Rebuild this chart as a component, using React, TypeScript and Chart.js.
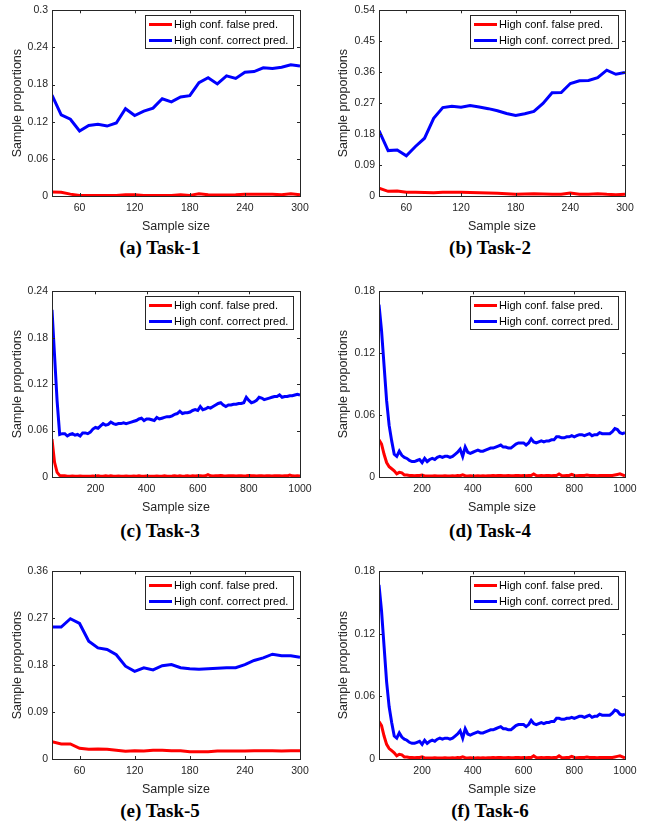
import React, { useEffect, useRef } from "react";
import { Chart, registerables } from "chart.js";
Chart.register(...registerables);

// ---------------- data ----------------
const shortSizes = [30, 40, 50, 60, 70, 80, 90, 100, 110, 120, 130, 140, 150, 160, 170, 180, 190, 200, 210, 220, 230, 240, 250, 260, 270, 280, 290, 300];

const longSizes = [
  30, 40, 50, 60, 70, 80, 90, 100, 110, 120,
  130, 140, 150, 160, 170, 180, 190, 200, 210, 220,
  230, 240, 250, 260, 270, 280, 290, 300, 310, 320,
  330, 340, 350, 360, 370, 380, 390, 400, 410, 420,
  430, 440, 450, 460, 470, 480, 490, 500, 510, 520,
  530, 540, 550, 560, 570, 580, 590, 600, 610, 620,
  630, 640, 650, 660, 670, 680, 690, 700, 710, 720,
  730, 740, 750, 760, 770, 780, 790, 800, 810, 820,
  830, 840, 850, 860, 870, 880, 890, 900, 910, 920,
  930, 940, 950, 960, 970, 980, 990, 1000,
];

const seriesLabels = ["High conf. false pred.", "High conf. correct pred."];

const task1False = [0.0065, 0.006, 0.003, 0.0008, 0.001, 0.001, 0.0008, 0.0008, 0.002, 0.002, 0.001, 0.0008, 0.001, 0.001, 0.002, 0.001, 0.0037, 0.002, 0.0015, 0.0015, 0.002, 0.003, 0.003, 0.003, 0.0027, 0.002, 0.0037, 0.002];
const task1Correct = [0.163, 0.131, 0.124, 0.105, 0.114, 0.116, 0.113, 0.118, 0.141, 0.130, 0.137, 0.142, 0.157, 0.152, 0.160, 0.162, 0.183, 0.191, 0.181, 0.194, 0.190, 0.200, 0.201, 0.207, 0.206, 0.208, 0.212, 0.210];

const task2False = [0.023, 0.0135, 0.0145, 0.0106, 0.0106, 0.010, 0.0096, 0.0106, 0.0106, 0.0106, 0.010, 0.0096, 0.0087, 0.0077, 0.0067, 0.0048, 0.0058, 0.0067, 0.0058, 0.0048, 0.0048, 0.0087, 0.0048, 0.0048, 0.0067, 0.0048, 0.0039, 0.0048];
const task2Correct = [0.190, 0.132, 0.134, 0.117, 0.144, 0.168, 0.226, 0.257, 0.261, 0.258, 0.263, 0.259, 0.254, 0.248, 0.240, 0.234, 0.239, 0.246, 0.269, 0.300, 0.301, 0.327, 0.335, 0.336, 0.344, 0.366, 0.354, 0.359];

const task3False = [
  0.049, 0.019, 0.006, 0.002, 0.0015, 0.0015, 0.001, 0.001, 0.0012, 0.001,
  0.001, 0.0012, 0.001, 0.001, 0.001, 0.001, 0.0012, 0.001, 0.0015, 0.001,
  0.001, 0.0015, 0.001, 0.0015, 0.001, 0.001, 0.0012, 0.001, 0.001, 0.0012,
  0.001, 0.001, 0.0012, 0.001, 0.0015, 0.001, 0.001, 0.0012, 0.001, 0.001,
  0.001, 0.0012, 0.001, 0.001, 0.0015, 0.001, 0.001, 0.0012, 0.0015, 0.001,
  0.0015, 0.001, 0.0012, 0.0015, 0.001, 0.0015, 0.0012, 0.0015, 0.0015, 0.0012,
  0.0015, 0.003, 0.0015, 0.0012, 0.0015, 0.0015, 0.002, 0.0015, 0.0012, 0.0015,
  0.0015, 0.0015, 0.0012, 0.0015, 0.0015, 0.0012, 0.0015, 0.002, 0.0015, 0.0015,
  0.0012, 0.0015, 0.0015, 0.0012, 0.0015, 0.0015, 0.0012, 0.0015, 0.0015, 0.0015,
  0.0012, 0.0015, 0.0015, 0.0025, 0.0015, 0.0012, 0.0015, 0.0012,
];
const task3Correct = [
  0.216, 0.157, 0.098, 0.055, 0.056, 0.056, 0.053, 0.055, 0.056, 0.054,
  0.055, 0.053, 0.057, 0.057, 0.056, 0.058, 0.062, 0.064, 0.063, 0.066,
  0.069, 0.067, 0.068, 0.071, 0.069, 0.068, 0.069, 0.069, 0.070, 0.069,
  0.070, 0.071, 0.072, 0.073, 0.075, 0.076, 0.073, 0.075, 0.075, 0.074,
  0.073, 0.077, 0.075, 0.076, 0.077, 0.078, 0.078, 0.079, 0.081, 0.082,
  0.085, 0.082, 0.083, 0.083, 0.084, 0.086, 0.087, 0.086, 0.091, 0.087,
  0.088, 0.090, 0.089, 0.091, 0.093, 0.095, 0.096, 0.093, 0.091, 0.093,
  0.093, 0.094, 0.094, 0.095, 0.095, 0.096, 0.103, 0.099, 0.096, 0.097,
  0.099, 0.103, 0.102, 0.100, 0.101, 0.102, 0.103, 0.104, 0.104, 0.106,
  0.103, 0.104, 0.104, 0.105, 0.105, 0.106, 0.107, 0.106,
];

const task4False = [
  0.036, 0.032, 0.022, 0.014, 0.010, 0.008, 0.006, 0.003, 0.0045, 0.004,
  0.002, 0.002, 0.0015, 0.0015, 0.0012, 0.0015, 0.0015, 0.002, 0.001, 0.001,
  0.001, 0.001, 0.0012, 0.001, 0.001, 0.001, 0.0012, 0.001, 0.001, 0.0012,
  0.001, 0.0015, 0.0012, 0.002, 0.0012, 0.001, 0.0012, 0.001, 0.001, 0.0012,
  0.001, 0.0012, 0.001, 0.0012, 0.0012, 0.0015, 0.0012, 0.0015, 0.0015, 0.0012,
  0.0012, 0.0015, 0.0012, 0.0012, 0.0015, 0.0015, 0.0012, 0.0015, 0.0012, 0.0015,
  0.0015, 0.003, 0.0015, 0.0012, 0.0015, 0.0012, 0.0015, 0.0015, 0.0012, 0.0015,
  0.0015, 0.003, 0.0015, 0.0012, 0.0015, 0.0015, 0.0025, 0.0015, 0.0012, 0.0015,
  0.0015, 0.0015, 0.002, 0.0015, 0.0015, 0.0015, 0.0012, 0.0015, 0.0015, 0.0015,
  0.0015, 0.0015, 0.0015, 0.002, 0.0025, 0.003, 0.002, 0.001,
];
const task4Correct = [
  0.167, 0.142, 0.108, 0.074, 0.050, 0.035, 0.022, 0.020, 0.025, 0.021,
  0.019, 0.018, 0.016, 0.015, 0.015, 0.016, 0.017, 0.014, 0.018, 0.015,
  0.017, 0.018, 0.017, 0.019, 0.020, 0.019, 0.020, 0.020, 0.019, 0.020,
  0.022, 0.024, 0.027, 0.020, 0.029, 0.024, 0.023, 0.024, 0.025, 0.026,
  0.025, 0.025, 0.026, 0.027, 0.028, 0.028, 0.029, 0.030, 0.031, 0.029,
  0.029, 0.028, 0.028, 0.030, 0.032, 0.033, 0.033, 0.033, 0.031, 0.033,
  0.037, 0.034, 0.033, 0.034, 0.035, 0.034, 0.035, 0.035, 0.036, 0.036,
  0.039, 0.039, 0.038, 0.038, 0.039, 0.039, 0.040, 0.039, 0.040, 0.041,
  0.041, 0.040, 0.041, 0.042, 0.040, 0.041, 0.041, 0.043, 0.042, 0.042,
  0.042, 0.042, 0.044, 0.047, 0.046, 0.043, 0.042, 0.043,
];

const task5False = [0.033, 0.029, 0.029, 0.0205, 0.0185, 0.019, 0.0185, 0.0166, 0.0147, 0.016, 0.0153, 0.0166, 0.0166, 0.016, 0.016, 0.014, 0.014, 0.014, 0.0153, 0.0153, 0.0153, 0.0153, 0.016, 0.016, 0.016, 0.0153, 0.016, 0.016];
const task5Correct = [0.253, 0.253, 0.269, 0.260, 0.226, 0.213, 0.210, 0.200, 0.178, 0.168, 0.175, 0.171, 0.179, 0.181, 0.175, 0.173, 0.172, 0.173, 0.174, 0.175, 0.175, 0.181, 0.189, 0.194, 0.201, 0.198, 0.198, 0.195];

// Task-6 is drawn identically to Task-4 in the reference
const task6False = task4False;
const task6Correct = task4Correct;

const shortXTicks = [60, 120, 180, 240, 300];
const longXTicks = [200, 400, 600, 800, 1000];

const yTicks006_030 = [0, 0.06, 0.12, 0.18, 0.24, 0.3];
const yLabels006_030 = ["0", "0.06", "0.12", "0.18", "0.24", "0.3"];
const yTicks009_054 = [0, 0.09, 0.18, 0.27, 0.36, 0.45, 0.54];
const yLabels009_054 = ["0", "0.09", "0.18", "0.27", "0.36", "0.45", "0.54"];
const yTicks006_024 = [0, 0.06, 0.12, 0.18, 0.24];
const yLabels006_024 = ["0", "0.06", "0.12", "0.18", "0.24"];
const yTicks006_018 = [0, 0.06, 0.12, 0.18];
const yLabels006_018 = ["0", "0.06", "0.12", "0.18"];
const yTicks009_036 = [0, 0.09, 0.18, 0.27, 0.36];
const yLabels009_036 = ["0", "0.09", "0.18", "0.27", "0.36"];

const captions = ["(a) Task-1", "(b) Task-2", "(c) Task-3", "(d) Task-4", "(e) Task-5", "(f) Task-6"];

// ---------------- drawing ----------------
const AX = "#262626";
const SANS = '"Liberation Sans", Arial, sans-serif';

const boxPlugin = {
  id: "matlabBox",
  afterDatasetsDraw(chart: any) {
    const { ctx, chartArea, scales } = chart;
    const { left, right, top, bottom } = chartArea;
    const x = scales.x;
    const y = scales.y;
    ctx.save();
    ctx.strokeStyle = AX;
    ctx.lineWidth = 1;
    ctx.beginPath();
    const tl = 3;
    x.ticks.forEach((t: any) => {
      const px = Math.round(x.getPixelForValue(t.value)) + 0.5;
      ctx.moveTo(px, bottom);
      ctx.lineTo(px, bottom - tl);
      ctx.moveTo(px, top);
      ctx.lineTo(px, top + tl);
    });
    y.ticks.forEach((t: any) => {
      const py = Math.round(y.getPixelForValue(t.value)) + 0.5;
      ctx.moveTo(left, py);
      ctx.lineTo(left + tl, py);
      ctx.moveTo(right, py);
      ctx.lineTo(right - tl, py);
    });
    ctx.stroke();
    ctx.strokeRect(Math.round(left) + 0.5, Math.round(top) + 0.5, Math.round(right - left), Math.round(bottom - top));

    // legend box inside the axes, top right
    ctx.font = `11px ${SANS}`;
    const ds = chart.data.datasets;
    const textW = Math.max(...ds.map((d: any) => ctx.measureText(d.label).width));
    const lineLen = 23;
    const boxW = Math.round(3.5 + lineLen + 2 + textW + 5);
    const boxH = 33;
    const bx = Math.round(right - 7 - boxW) + 0.5;
    const by = Math.round(top + 5) + 0.5;
    ctx.fillStyle = "#ffffff";
    ctx.fillRect(bx, by, boxW, boxH);
    ctx.strokeStyle = AX;
    ctx.lineWidth = 1;
    ctx.strokeRect(bx, by, boxW, boxH);
    ds.forEach((d: any, i: number) => {
      const cy = by + 9 + i * 16;
      ctx.beginPath();
      ctx.strokeStyle = d.borderColor;
      ctx.lineWidth = 3;
      ctx.moveTo(bx + 3.5, cy);
      ctx.lineTo(bx + 3.5 + lineLen, cy);
      ctx.stroke();
      ctx.fillStyle = "#000000";
      ctx.textBaseline = "middle";
      ctx.textAlign = "left";
      ctx.fillText(d.label, bx + 3.5 + lineLen + 2, cy + 0.5);
    });
    ctx.restore();
  },
};

type PanelCfg = {
  sizes: number[];
  falseVals: number[];
  correctVals: number[];
  xMax: number;
  xTicks: number[];
  yMax: number;
  yTicks: number[];
  yLabels: string[];
  left: number;
  top: number;
  width: number;
  height: number;
  yAxisW: number;
  yTitlePad: number;
};

function Panel({ cfg }: { cfg: PanelCfg }) {
  const ref = useRef<HTMLCanvasElement>(null);
  useEffect(() => {
    const tickFont = { family: SANS, size: 10.5 };
    const titleFont = { family: SANS, size: 12.5 };
    const chart = new Chart(ref.current as HTMLCanvasElement, {
      type: "line",
      data: {
        datasets: [
          {
            label: seriesLabels[0],
            data: cfg.sizes.map((s, i) => ({ x: s, y: cfg.falseVals[i] })),
            borderColor: "#ff0000",
            backgroundColor: "#ff0000",
            borderWidth: 3,
            pointRadius: 0,
            tension: 0,
            fill: false,
          },
          {
            label: seriesLabels[1],
            data: cfg.sizes.map((s, i) => ({ x: s, y: cfg.correctVals[i] })),
            borderColor: "#0000ff",
            backgroundColor: "#0000ff",
            borderWidth: 3,
            pointRadius: 0,
            tension: 0,
            fill: false,
          },
        ],
      },
      options: {
        responsive: false,
        maintainAspectRatio: false,
        animation: false,
        layout: { padding: { top: 10, right: 20, left: 0, bottom: 0 } },
        plugins: { legend: { display: false }, tooltip: { enabled: false } },
        scales: {
          x: {
            type: "linear",
            min: 30,
            max: cfg.xMax,
            grid: { display: false, drawTicks: false },
            border: { display: false },
            afterBuildTicks: (s: any) => {
              s.ticks = cfg.xTicks.map((v) => ({ value: v }));
            },
            afterFit: (s: any) => {
              s.height = 38;
            },
            ticks: {
              font: tickFont,
              color: AX,
              padding: 6,
              maxRotation: 0,
              autoSkip: false,
              callback: (v: any) => String(v),
            },
            title: {
              display: true,
              text: "Sample size",
              font: titleFont,
              color: AX,
              padding: { top: 3, bottom: 0 },
            },
          },
          y: {
            type: "linear",
            min: 0,
            max: cfg.yMax,
            grid: { display: false, drawTicks: false },
            border: { display: false },
            afterBuildTicks: (s: any) => {
              s.ticks = cfg.yTicks.map((v) => ({ value: v }));
            },
            afterFit: (s: any) => {
              s.width = cfg.yAxisW;
            },
            ticks: {
              font: tickFont,
              color: AX,
              padding: 4,
              autoSkip: false,
              callback: (v: any) => {
                const i = cfg.yTicks.findIndex((t) => Math.abs(t - v) < 1e-9);
                return i >= 0 ? cfg.yLabels[i] : "";
              },
            },
            title: {
              display: true,
              text: "Sample proportions",
              font: titleFont,
              color: AX,
              padding: { top: cfg.yTitlePad, bottom: 0 },
            },
          },
        },
      },
      plugins: [boxPlugin],
    } as any);
    return () => chart.destroy();
  }, []);
  return (
    <canvas
      ref={ref}
      width={cfg.width}
      height={cfg.height}
      style={{ position: "absolute", left: cfg.left, top: cfg.top, width: cfg.width, height: cfg.height }}
    />
  );
}

const rows = [
  { plotTop: 10, plotBottom: 196, captionY: 248 },
  { plotTop: 291, plotBottom: 477, captionY: 531 },
  { plotTop: 571, plotBottom: 759, captionY: 811 },
];
const cols = [
  { left: 0, yAxisW: 52, yTitlePad: 10, captionX: 160 },
  { left: 325, yAxisW: 54, yTitlePad: 11, captionX: 490 },
];

export default function App() {
  const data: [number[], number[], number[], number, number[], number, number[], string[]][] = [
    [shortSizes, task1False, task1Correct, 300, shortXTicks, 0.3, yTicks006_030, yLabels006_030],
    [shortSizes, task2False, task2Correct, 300, shortXTicks, 0.54, yTicks009_054, yLabels009_054],
    [longSizes, task3False, task3Correct, 1000, longXTicks, 0.24, yTicks006_024, yLabels006_024],
    [longSizes, task4False, task4Correct, 1000, longXTicks, 0.18, yTicks006_018, yLabels006_018],
    [shortSizes, task5False, task5Correct, 300, shortXTicks, 0.36, yTicks009_036, yLabels009_036],
    [longSizes, task6False, task6Correct, 1000, longXTicks, 0.18, yTicks006_018, yLabels006_018],
  ];
  return (
    <div style={{ position: "fixed", left: 0, top: 0, width: 645, height: 825, background: "#ffffff", overflow: "hidden" }}>
      {data.map((d, i) => {
        const r = rows[Math.floor(i / 2)];
        const c = cols[i % 2];
        const cfg: PanelCfg = {
          sizes: d[0],
          falseVals: d[1],
          correctVals: d[2],
          xMax: d[3],
          xTicks: d[4],
          yMax: d[5],
          yTicks: d[6],
          yLabels: d[7],
          left: c.left,
          top: r.plotTop - 10,
          width: 320,
          height: r.plotBottom - r.plotTop + 10 + 38,
          yAxisW: c.yAxisW,
          yTitlePad: c.yTitlePad,
        };
        return <Panel key={i} cfg={cfg} />;
      })}
      {captions.map((t, i) => {
        const r = rows[Math.floor(i / 2)];
        const c = cols[i % 2];
        return (
          <div
            key={"cap" + i}
            style={{
              position: "absolute",
              left: c.captionX - 100,
              width: 200,
              top: r.captionY - 11,
              height: 22,
              lineHeight: "22px",
              textAlign: "center",
              fontFamily: '"Liberation Serif", "Times New Roman", serif',
              fontWeight: "bold",
              fontSize: 19,
              color: "#000000",
            }}
          >
            {t}
          </div>
        );
      })}
    </div>
  );
}
